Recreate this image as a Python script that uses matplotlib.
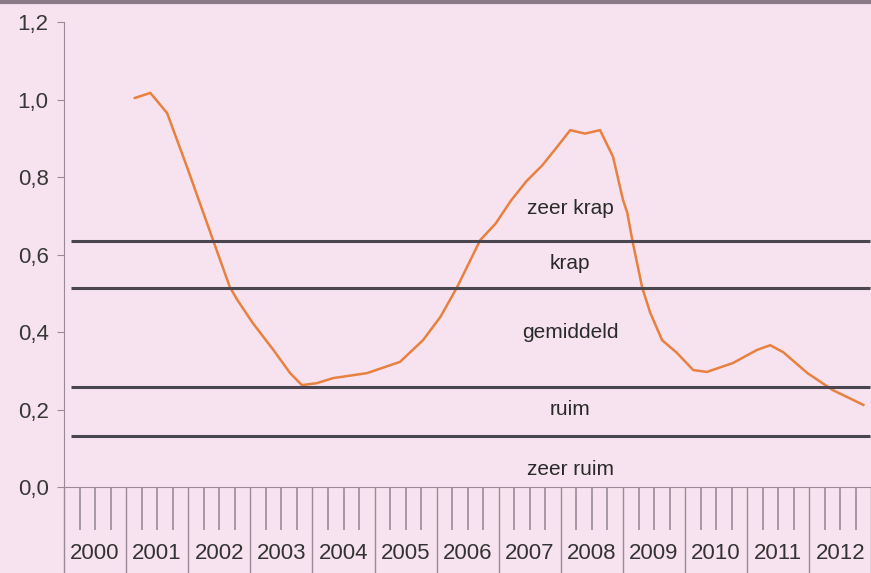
import numpy as np
import matplotlib
matplotlib.use("Agg")
import matplotlib.pyplot as plt
from matplotlib.lines import Line2D

plt.rcParams['font.family'] = ['Liberation Sans', 'DejaVu Sans']

# spanningsindicator (jaar als decimaal getal)
jaar = [2001.14, 2001.39, 2001.66, 2001.98, 2002.40, 2002.67, 2002.79, 2003.04,
        2003.37, 2003.64, 2003.83, 2004.07, 2004.33, 2004.88, 2005.41, 2005.78,
        2006.06, 2006.33, 2006.70, 2006.95, 2007.20, 2007.45, 2007.70, 2007.95,
        2008.15, 2008.39, 2008.63, 2008.84, 2009.00, 2009.07, 2009.15, 2009.31,
        2009.44, 2009.63, 2009.87, 2010.13, 2010.35, 2010.77, 2011.16, 2011.37,
        2011.58, 2011.97, 2012.38, 2012.87]
waarde = [1.004, 1.017, 0.965, 0.826, 0.637, 0.516, 0.483, 0.423,
          0.354, 0.294, 0.263, 0.268, 0.281, 0.294, 0.323, 0.379,
          0.439, 0.516, 0.637, 0.680, 0.740, 0.790, 0.830, 0.880,
          0.921, 0.912, 0.921, 0.852, 0.741, 0.707, 0.637, 0.514,
          0.449, 0.379, 0.346, 0.302, 0.297, 0.320, 0.354, 0.366,
          0.348, 0.294, 0.250, 0.212]

grenzen = [0.635, 0.514, 0.258, 0.132]
klassen = ["zeer krap", "krap", "gemiddeld", "ruim", "zeer ruim"]
klasse_y = [0.72, 0.578, 0.40, 0.199, 0.044]
jaren = list(range(2000, 2013))

roze = "#F7E3EF"
fig = plt.figure(figsize=(8.71, 5.73), dpi=100, facecolor=roze)
ax = fig.add_axes([0.0735, 0.150, 0.927, 0.8116], facecolor=roze)

ax.plot(jaar, waarde, color="#E8803F", lw=1.8, solid_joinstyle="round")

for g in grenzen:
    ax.hlines(g, 2000.12, 2012.97, color="#4A4650", lw=2.2)
for k, ky in zip(klassen, klasse_y):
    ax.text(2008.15, ky, k, ha="center", va="center", fontsize=15, color="#2A2A2A")

ax.set_xlim(2000, 2013)
ax.set_ylim(0, 1.2)
ax.set_yticks(np.arange(0, 1.21, 0.2))
ax.set_yticklabels([f"{v:.1f}".replace(".", ",") for v in np.arange(0, 1.21, 0.2)],
                   fontsize=16, color="#383838")
ax.tick_params(axis="y", length=5, color="#9A8A98", pad=6)

# x-as: jaargrenzen en kwartalen
ax.set_xticks(jaren + [2013])
ax.set_xticklabels([])
ax.set_xticks([j + q / 4 for j in jaren for q in (1, 2, 3)], minor=True)
ax.tick_params(axis="x", which="major", length=62, color="#9A8A98", width=1)
ax.tick_params(axis="x", which="minor", length=31, color="#9A8A98", width=1.2)
for j in jaren:
    ax.text(j + 0.5, -0.143, str(j), ha="center", va="center", fontsize=16,
            color="#333333", transform=ax.get_xaxis_transform())

for s in ["top", "right"]:
    ax.spines[s].set_visible(False)
for s in ["left", "bottom"]:
    ax.spines[s].set_color("#9A8A98")

fig.add_artist(Line2D([0, 1], [0.997, 0.997], transform=fig.transFigure,
                      color="#8A7A88", lw=3))

fig.savefig("out.png", dpi=100, facecolor=roze)
